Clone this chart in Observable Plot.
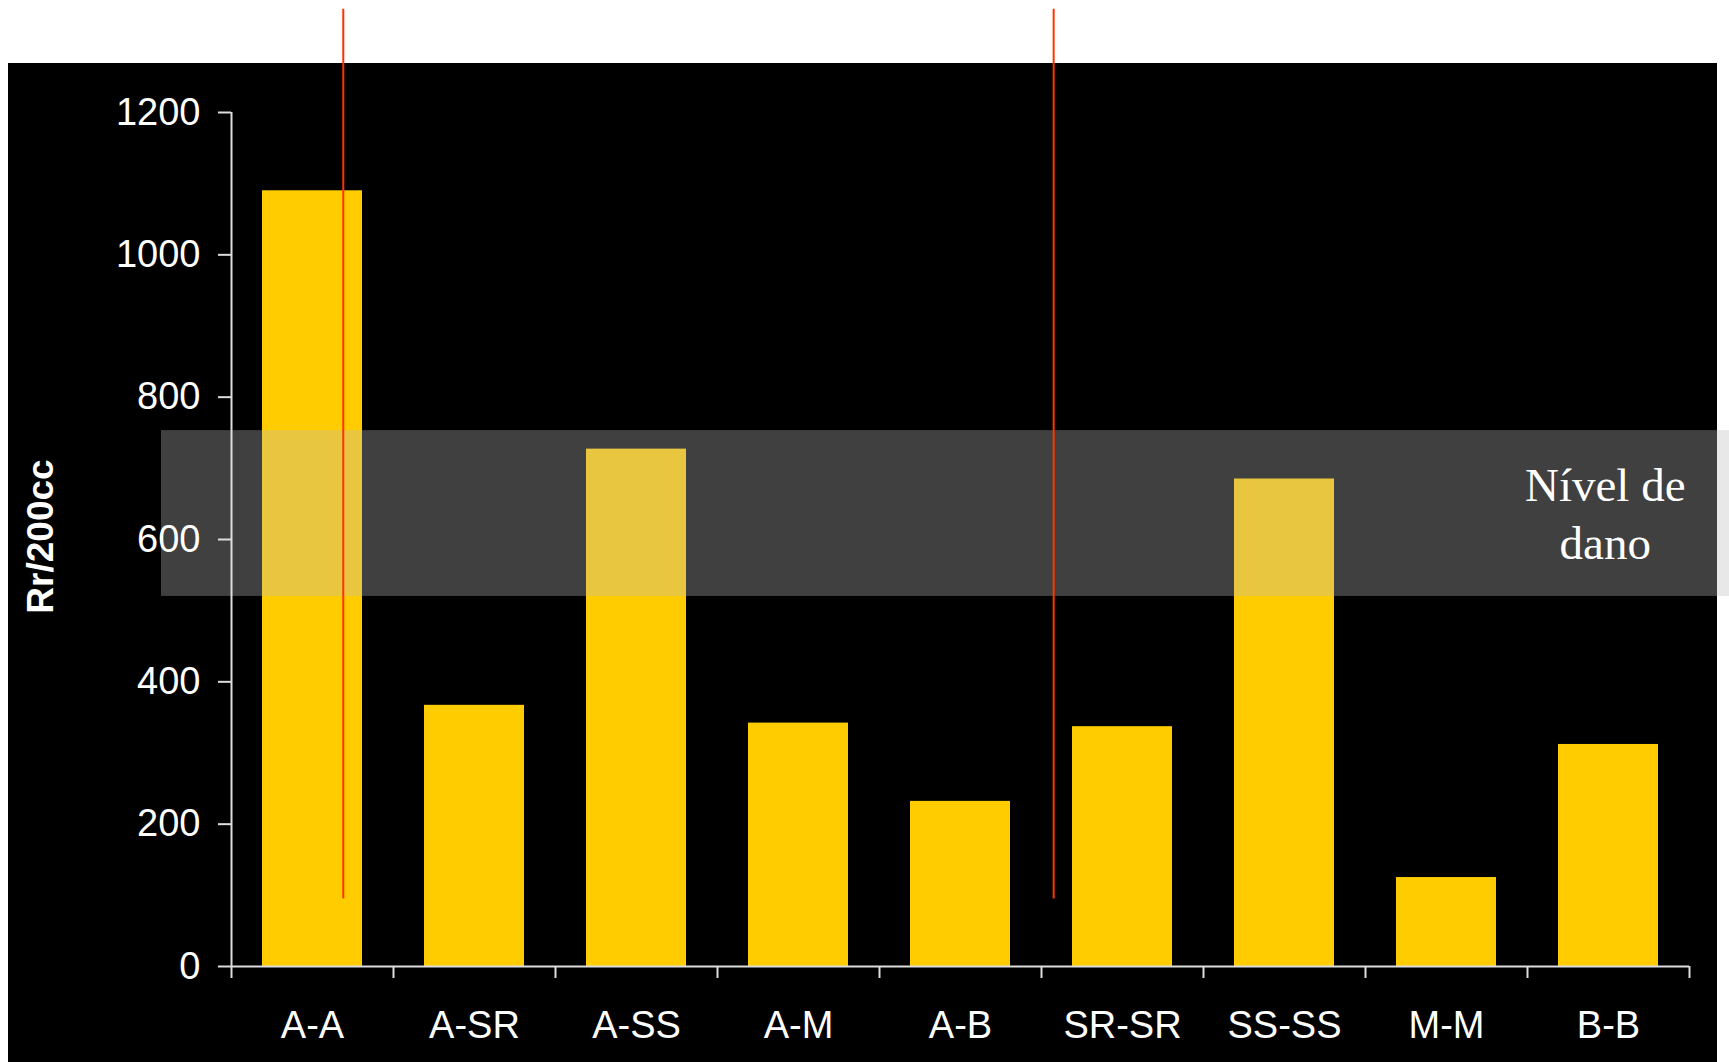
<!DOCTYPE html>
<html><head><meta charset="utf-8">
<script src="https://cdn.jsdelivr.net/npm/d3@7"></script>
<script src="https://cdn.jsdelivr.net/npm/@observablehq/plot@0.6"></script>
<style>
html,body{margin:0;padding:0;background:#fff;}
#wrap{position:relative;width:1729px;height:1062px;overflow:hidden;}
#bg{position:absolute;left:8px;top:63px;width:1709px;height:999px;background:#000;}
#chart{position:absolute;left:0;top:0;}
</style></head><body>
<div id="wrap"><div id="bg"></div><div id="chart"></div></div>
<script>
const categories = ["A-A","A-SR","A-SS","A-M","A-B","SR-SR","SS-SS","M-M","B-B"];
const values = [1090, 367, 727, 342, 232, 337, 685, 125, 312];
const yTicks = [0, 200, 400, 600, 800, 1000, 1200];
const yLabel = "Rr/200cc";
const damageBand = [520, 753];
const damageLabel = "Nível de\ndano";
const damageLabelPos = [8.48, 639];
const redLineX = [0.69, 5.075];
const redLineY = [95, 1345];

const bars = categories.map((c, i) => ({category: c, index: i, value: values[i]}));
const boundaries = categories.map((_, i) => i).concat(categories.length);
const centers = categories.map((_, i) => i + 0.5);

const plot = Plot.plot({
  width: 1729, height: 1062,
  marginLeft: 231, marginRight: 40, marginTop: 112, marginBottom: 96,
  style: {background: "transparent", color: "#fff", fontFamily: "'Liberation Sans', Arial, sans-serif", fontSize: "38px", overflow: "visible"},
  x: {domain: [0, categories.length]},
  y: {domain: [0, 1200]},
  marks: [
    Plot.rect(bars, {x1: "index", x2: d => d.index + 1, y1: 0, y2: "value", fill: "#FFCC00", insetLeft: 31, insetRight: 31}),
    Plot.rect([damageBand], {y1: d => d[0], y2: d => d[1], fill: "rgb(188,188,188)", fillOpacity: 0.34, insetLeft: -70, insetRight: -40}),
    Plot.axisY({ticks: yTicks, tickFormat: d => String(d), tickSize: 13, tickPadding: 18, stroke: "#ddd", strokeWidth: 2, fill: "#fff", fontSize: 38, label: null}),
    Plot.ruleX([0], {y1: 0, y2: 1200, stroke: "#ddd", strokeWidth: 2}),
    Plot.ruleY([0], {stroke: "#ddd", strokeWidth: 2}),
    Plot.axisX({ticks: boundaries, tickSize: 12, tickFormat: () => "", stroke: "#ddd", strokeWidth: 2, label: null}),
    Plot.axisX({ticks: centers, tickSize: 0, tickPadding: 45, tickFormat: d => categories[Math.round(d - 0.5)], fill: "#fff", fontSize: 38, label: null}),
    Plot.ruleX(redLineX, {x: d => d, y1: redLineY[0], y2: redLineY[1], stroke: "#ff3300", strokeWidth: 2}),
    Plot.text([yLabel], {frameAnchor: "left", text: d => d, rotate: -90, dx: -190, dy: -3, textAnchor: "middle", fontWeight: "bold", fontSize: 37, fill: "#fff"}),
    Plot.text([damageLabelPos], {x: d => d[0], y: d => d[1], text: () => damageLabel, fontFamily: "'Liberation Serif', 'Times New Roman', serif", fontSize: 47, lineHeight: 1.22, fill: "#fff", textAnchor: "middle"})
  ]
});
document.getElementById("chart").appendChild(plot);
</script>
</body></html>
